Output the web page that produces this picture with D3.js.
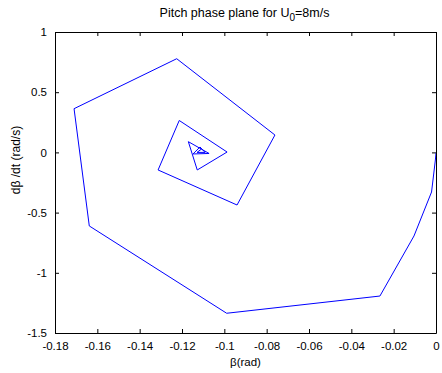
<!DOCTYPE html>
<html>
<head>
<meta charset="utf-8">
<script src="https://cdn.jsdelivr.net/npm/d3@7"></script>
<style>
  html, body { margin: 0; padding: 0; background: #fff; }
  svg { display: block; font-family: "Liberation Sans", Arial, sans-serif; }
</style>
</head>
<body>
<script>
// Pitch angle trajectory (beta, rad) and its rate (dbeta/dt, rad/s)
const beta = [0, -0.0003, -0.0021, -0.0104, -0.0265, -0.0989, -0.1638, -0.171, -0.1225,
  -0.0761, -0.094, -0.1313, -0.1213, -0.0987, -0.1128, -0.117, -0.1072, -0.1148,
  -0.1115, -0.1091, -0.1129, -0.111];
const betaRate = [-0.005, -0.063, -0.329, -0.694, -1.193, -1.336, -0.611, 0.363, 0.778,
  0.1445, -0.437, -0.146, 0.265, 0.003, -0.146, 0.089, -0.009, -0.013,
  0.045, 0.0, 0.0, 0.025];
const xTicks = [-0.18, -0.16, -0.14, -0.12, -0.1, -0.08, -0.06, -0.04, -0.02, 0];
const yTicks = [1, 0.5, 0, -0.5, -1, -1.5];

const W = 442, H = 373;
const m = { left: 55, right: 6, top: 32, bottom: 40 };
const iw = W - m.left - m.right, ih = H - m.top - m.bottom;

const svg = d3.select("body").append("svg").attr("width", W).attr("height", H);
const g = svg.append("g").attr("transform", `translate(${m.left},${m.top})`);

const x = d3.scaleLinear().domain([-0.18, 0]).range([0, iw]);
const y = d3.scaleLinear().domain([-1.5, 1]).range([ih, 0]);

svg.append("defs").append("clipPath").attr("id", "plotClip")
  .append("rect").attr("width", iw).attr("height", ih);

const fmt = d => (d === 0 ? "0" : String(d));
const tickLen = 4;

// axes with inward ticks on all four sides
const styleAxis = sel => {
  sel.selectAll(".domain").attr("stroke", "#000").attr("stroke-width", 1);
  sel.selectAll(".tick line").attr("stroke", "#000");
  sel.selectAll("text").attr("fill", "#000").style("font-size", "11.5px")
    .style("font-family", "'Liberation Sans', Arial, sans-serif");
};

g.append("g").attr("transform", `translate(0,${ih})`)
  .call(d3.axisBottom(x).tickValues(xTicks).tickFormat(fmt).tickSizeInner(-tickLen).tickSizeOuter(0).tickPadding(9))
  .call(styleAxis);
g.append("g")
  .call(d3.axisTop(x).tickValues(xTicks).tickFormat("").tickSizeInner(-tickLen).tickSizeOuter(0))
  .call(styleAxis);
g.append("g")
  .call(d3.axisLeft(y).tickValues(yTicks).tickFormat(fmt).tickSizeInner(-tickLen).tickSizeOuter(0).tickPadding(8))
  .call(styleAxis);
g.append("g").attr("transform", `translate(${iw},0)`)
  .call(d3.axisRight(y).tickValues(yTicks).tickFormat("").tickSizeInner(-tickLen).tickSizeOuter(0))
  .call(styleAxis);

// trajectory
const pts = beta.map((b, i) => [b, betaRate[i]]);
g.append("path")
  .datum(pts)
  .attr("clip-path", "url(#plotClip)")
  .attr("fill", "none")
  .attr("stroke", "#0000ff")
  .attr("stroke-width", 1)
  .attr("d", d3.line().x(d => x(d[0])).y(d => y(d[1])));

// title
const title = svg.append("text")
  .attr("x", m.left + iw / 2 - 1).attr("y", 17)
  .attr("text-anchor", "middle")
  .style("font-size", "12.5px");
title.append("tspan").text("Pitch phase plane for U");
title.append("tspan").attr("dy", 4).style("font-size", "10px").text("0");
title.append("tspan").attr("dy", -4).text("=8m/s");

// axis labels
svg.append("text")
  .attr("x", m.left + iw / 2).attr("y", 366)
  .attr("text-anchor", "middle")
  .style("font-size", "11.5px")
  .text("β(rad)");

svg.append("text")
  .attr("transform", `translate(20,160) rotate(-90)`)
  .attr("text-anchor", "middle")
  .style("font-size", "12px")
  .text("dβ /dt (rad/s)");
</script>
</body>
</html>
